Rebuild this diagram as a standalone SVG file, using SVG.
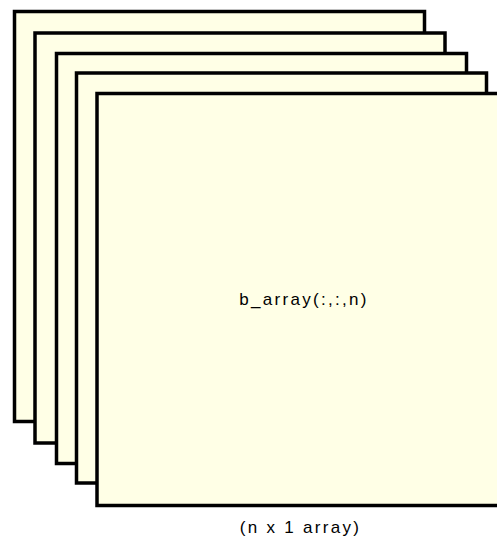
<svg xmlns="http://www.w3.org/2000/svg" width="497" height="542" viewBox="0 0 497 542">
<style>
.page{fill:#FFFFE6;stroke:#000;stroke-width:3.5}
.lbl{font-family:"Liberation Sans",Arial,sans-serif;font-size:17px;letter-spacing:2.3px;fill:#000;text-anchor:middle}
</style>
<rect width="497" height="542" fill="#fff"/>
<g id="page1"><rect class="page" x="14.5" y="11.5" width="410" height="410"/></g>
<g id="page2"><rect class="page" x="35" y="33" width="410" height="410"/></g>
<g id="page3"><rect class="page" x="56.5" y="53.5" width="410" height="410"/></g>
<g id="page4"><rect class="page" x="76.5" y="73" width="410" height="410"/></g>
<g id="page5"><rect class="page" x="97" y="93.5" width="410" height="412"/>
<text class="lbl" x="304" y="305">b_array(:,:,n)</text></g>
<g id="caption"><text class="lbl" x="300.5" y="532.5">(n x 1 array)</text></g>
</svg>
